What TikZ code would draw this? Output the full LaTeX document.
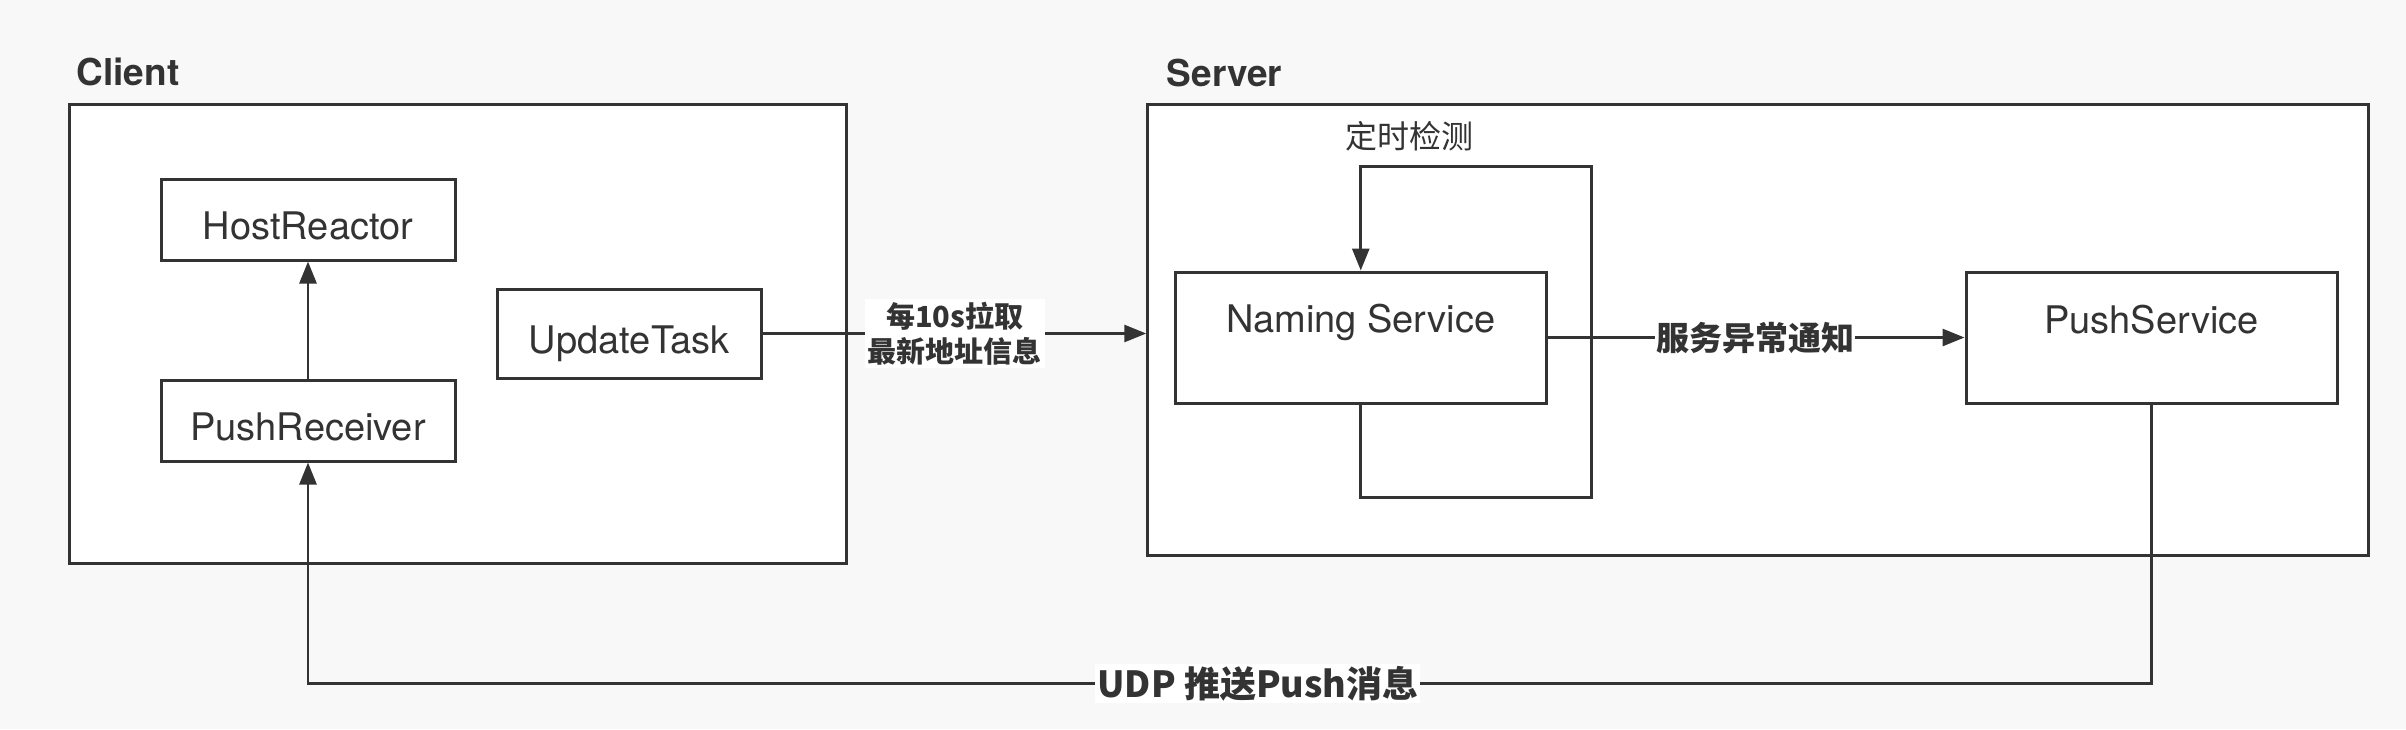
\documentclass[tikz,border=0pt]{standalone}
\usepackage{fontspec}
\setmainfont{TeX Gyre Heros}
\newfontfamily\cjk{Noto Sans CJK SC}
\usetikzlibrary{arrows.meta}
\definecolor{bgc}{RGB}{248,248,248}
\definecolor{ink}{RGB}{51,51,51}
\tikzset{
  box/.style={draw=ink, fill=white, line width=3pt, inner sep=0pt, text=ink, font=\fontsize{38}{46}\selectfont},
  boxtext/.style={text height=39pt, text depth=0pt},
  conn/.style={draw=ink, line width=2.8pt, -{Triangle[length=22pt,width=17pt]}},
  title/.style={text=ink, font=\bfseries\fontsize{37}{44}\selectfont, anchor=base west, inner sep=0pt},
  elabel/.style={fill=white, text=ink, inner sep=3pt, align=center},
}
\begin{document}
\begin{tikzpicture}[x=1pt,y=-1pt]
\fill[bgc] (0,0) rectangle (2406,729);
\useasboundingbox (0,0) rectangle (2406,729);

% containers
\node[box, minimum width=777pt, minimum height=459pt] (client) at (458.3,334.3) {};
\node[box, minimum width=1221pt, minimum height=451pt] (server) at (1758.25,329.6) {};
\node[title] (clientt) at (76.5,85) {Client};
\node[title] (servert) at (1166.6,86) {Server};

% client boxes
\node[box, boxtext, minimum width=294pt, minimum height=80.5pt] (hr) at (308,219.75) {HostReactor};
\node[box, boxtext, minimum width=294pt, minimum height=81pt] (pr) at (308,420.5) {PushReceiver};
\node[box, boxtext, minimum width=264.5pt, minimum height=89pt] (ut) at (629.25,333.5) {UpdateTask};

% server boxes
\node[box, minimum width=371.5pt, minimum height=131pt,
  label={[name=nst, anchor=center, yshift=-52pt, text=ink, font=\fontsize{38}{46}\selectfont]north:Naming Service}] (ns) at (1360.75,337.5) {};
\node[box, minimum width=371pt, minimum height=131pt,
  label={[name=pst, anchor=center, yshift=-49pt, text=ink, font=\fontsize{38}{46}\selectfont]north:PushService}] (ps) at (2151.5,337.5) {};

% connectors
\draw[conn] (pr.north) -- (hr.south);

\draw[conn] (ut.east) -- (server.west |- ut.east)
  node[elabel, midway, font=\cjk\bfseries\fontsize{29}{35}\selectfont] (utl) {每10s拉取\\最新地址信息};

\coordinate (l1) at (1360.75,497.5);
\coordinate (l2) at (1591.4,497.5);
\coordinate (l3) at (1591.4,166.4);
\coordinate (l4) at (1360.75,166.4);
\draw[conn] (ns.south) -- (l1) -- (l2) -- (l3) -- (l4) -- (ns.north);
\node[text=ink, font=\cjk\fontsize{32}{38}\selectfont] (loopl) at (1409,135.8) {定时检测};

\draw[conn] (ns.east) -- (ps.west)
  node[elabel, pos=0.497, inner sep=1pt, font=\cjk\bfseries\fontsize{33}{38}\selectfont] (nsl) {服务异常通知};

\coordinate (u1) at (2151.5,683.4);
\coordinate (u2) at (308,683.4);
\draw[conn] (ps.south) -- (u1) -- node[elabel, pos=0.4847, inner sep=2pt, font=\cjk\bfseries\fontsize{36}{40}\selectfont] (udpl) {UDP 推送Push消息} (u2) -- (pr.south);
\end{tikzpicture}
\end{document}
